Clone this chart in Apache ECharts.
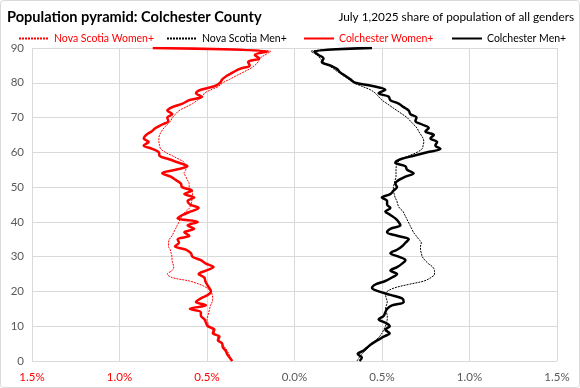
<!DOCTYPE html>
<html>
<head>
<meta charset="utf-8">
<script src="https://cdn.jsdelivr.net/npm/echarts@6/dist/echarts.min.js"></script>
<style>
html,body{margin:0;padding:0;background:#fff;}
#c{width:580px;height:388px;}
</style>
</head>
<body>
<div id="c"></div>
<script>
// Ages 0..90 (90 = 90+)
const ages = Array.from({length: 91}, (_, i) => i);
// Shares of population (%) by single year of age
const nsWomen = [0.352,0.365,0.375,0.385,0.40,0.415,0.43,0.44,0.455,0.47,0.487,0.495,0.50,0.495,0.49,0.485,0.48,0.47,0.467,0.47,0.477,0.50,0.54,0.60,0.70,0.727,0.70,0.69,0.695,0.70,0.70,0.705,0.71,0.72,0.72,0.715,0.70,0.69,0.68,0.67,0.66,0.65,0.64,0.62,0.60,0.592,0.587,0.587,0.583,0.587,0.602,0.602,0.612,0.621,0.631,0.621,0.631,0.631,0.660,0.698,0.737,0.765,0.771,0.775,0.775,0.771,0.760,0.746,0.727,0.708,0.698,0.679,0.660,0.621,0.583,0.554,0.525,0.515,0.477,0.433,0.410,0.371,0.333,0.294,0.256,0.227,0.208,0.198,0.169,0.135,0.80];
const nsMen = [0.357,0.37,0.385,0.405,0.425,0.445,0.465,0.485,0.50,0.51,0.52,0.525,0.53,0.53,0.525,0.52,0.525,0.53,0.525,0.52,0.53,0.57,0.65,0.74,0.78,0.80,0.80,0.79,0.765,0.745,0.73,0.725,0.72,0.72,0.725,0.71,0.695,0.68,0.67,0.66,0.65,0.64,0.63,0.62,0.60,0.59,0.585,0.575,0.57,0.565,0.565,0.57,0.575,0.58,0.58,0.58,0.582,0.59,0.605,0.653,0.700,0.729,0.735,0.739,0.735,0.723,0.710,0.700,0.681,0.662,0.643,0.615,0.586,0.557,0.529,0.500,0.481,0.462,0.433,0.385,0.338,0.309,0.281,0.252,0.223,0.195,0.166,0.147,0.128,0.094,0.44];
const colWomen = [0.356,0.371,0.385,0.394,0.410,0.413,0.438,0.429,0.467,0.458,0.496,0.506,0.515,0.535,0.535,0.598,0.506,0.563,0.535,0.496,0.477,0.487,0.500,0.510,0.515,0.548,0.506,0.463,0.506,0.535,0.583,0.592,0.621,0.683,0.660,0.668,0.601,0.630,0.573,0.611,0.553,0.668,0.639,0.592,0.548,0.597,0.611,0.573,0.630,0.586,0.643,0.649,0.677,0.708,0.756,0.679,0.612,0.660,0.717,0.771,0.775,0.813,0.862,0.833,0.862,0.848,0.817,0.794,0.756,0.721,0.727,0.698,0.727,0.698,0.640,0.602,0.529,0.563,0.535,0.458,0.425,0.413,0.387,0.352,0.313,0.256,0.265,0.202,0.227,0.154,0.81];
const colMen = [0.372,0.385,0.361,0.395,0.418,0.443,0.475,0.510,0.544,0.519,0.544,0.519,0.481,0.510,0.519,0.529,0.557,0.624,0.615,0.548,0.481,0.443,0.462,0.519,0.557,0.586,0.548,0.586,0.615,0.634,0.595,0.548,0.586,0.615,0.634,0.653,0.586,0.529,0.548,0.605,0.595,0.576,0.548,0.519,0.548,0.529,0.529,0.499,0.547,0.566,0.586,0.576,0.595,0.634,0.681,0.643,0.634,0.576,0.605,0.681,0.758,0.834,0.805,0.815,0.777,0.796,0.748,0.767,0.729,0.691,0.697,0.662,0.653,0.624,0.595,0.548,0.538,0.481,0.519,0.452,0.347,0.319,0.290,0.261,0.242,0.204,0.156,0.166,0.137,0.113,0.443];
const xTicks = [-1.5,-1.0,-0.5,0,0.5,1.0,1.5];
const seriesNames = ['Nova Scotia Women+','Nova Scotia Men+','Colchester Women+','Colchester Men+'];

const RED = '#ff0000', BLK = '#000000', GRAY = '#595959';
const FONT = 'Lato, Roboto, sans-serif';

const toPts = (vals, sign) => vals.map((v, i) => [sign * v, ages[i]]);

const legendLefts = [16, 164, 301, 449];
const legendColors = [RED, BLK, RED, BLK];
const legends = seriesNames.map((n, i) => ({
  left: legendLefts[i], top: 28, itemWidth: 30, itemHeight: 2, padding: [5, 2, 5, 2],
  itemStyle: {opacity: 0},
  textStyle: {fontFamily: FONT, fontSize: 10.5, color: legendColors[i]},
  data: [n]
}));

const chart = echarts.init(document.getElementById('c'), null, {renderer: 'canvas'});
chart.setOption({
  animation: false,
  backgroundColor: '#ffffff',
  textStyle: {fontFamily: FONT},
  graphic: [{
    type: 'rect', shape: {x: 0.5, y: 0.5, width: 579, height: 387, r: 3},
    style: {fill: 'none', stroke: '#d9d9d9', lineWidth: 1}, z: -1
  }],
  title: [
    {text: 'Population pyramid: Colchester County', left: 2, top: 5,
     textStyle: {fontFamily: FONT, fontSize: 14.6, fontWeight: 'bold', color: '#000'}},
    {text: 'July 1,2025 share of population of all genders', right: 1, top: 6,
     textStyle: {fontFamily: FONT, fontSize: 11.8, fontWeight: 'normal', color: '#000'}}
  ],
  legend: legends,
  grid: {left: 32, right: 23, top: 48, bottom: 27, containLabel: false},
  xAxis: {
    type: 'value', min: xTicks[0], max: xTicks[xTicks.length - 1], interval: 0.5,
    axisLine: {show: false}, axisTick: {show: false},
    splitLine: {show: true, lineStyle: {color: '#d9d9d9', width: 1}},
    axisLabel: {
      fontFamily: FONT, fontSize: 11.5, margin: 10,
      formatter: v => Math.abs(v).toFixed(1) + '%',
      color: v => (v < 0 ? RED : GRAY)
    }
  },
  yAxis: {
    type: 'value', min: 0, max: 90, interval: 10,
    axisLine: {show: false}, axisTick: {show: false},
    splitLine: {show: true, lineStyle: {color: '#d9d9d9', width: 1}},
    axisLabel: {fontFamily: FONT, fontSize: 11.5, color: GRAY, margin: 8}
  },
  series: [
    {name: seriesNames[0], type: 'line', data: toPts(nsWomen, -1), smooth: 0.35, symbol: 'none',
     lineStyle: {color: RED, width: 1, type: [2, 1]}, itemStyle: {color: RED}},
    {name: seriesNames[1], type: 'line', data: toPts(nsMen, 1), smooth: 0.35, symbol: 'none',
     lineStyle: {color: BLK, width: 1, type: [2, 1]}, itemStyle: {color: BLK}},
    {name: seriesNames[2], type: 'line', data: toPts(colWomen, -1), smooth: 0.35, symbol: 'none',
     lineStyle: {color: RED, width: 2.5}, itemStyle: {color: RED}},
    {name: seriesNames[3], type: 'line', data: toPts(colMen, 1), smooth: 0.35, symbol: 'none',
     lineStyle: {color: BLK, width: 2.5}, itemStyle: {color: BLK}}
  ]
});
</script>
</body>
</html>
